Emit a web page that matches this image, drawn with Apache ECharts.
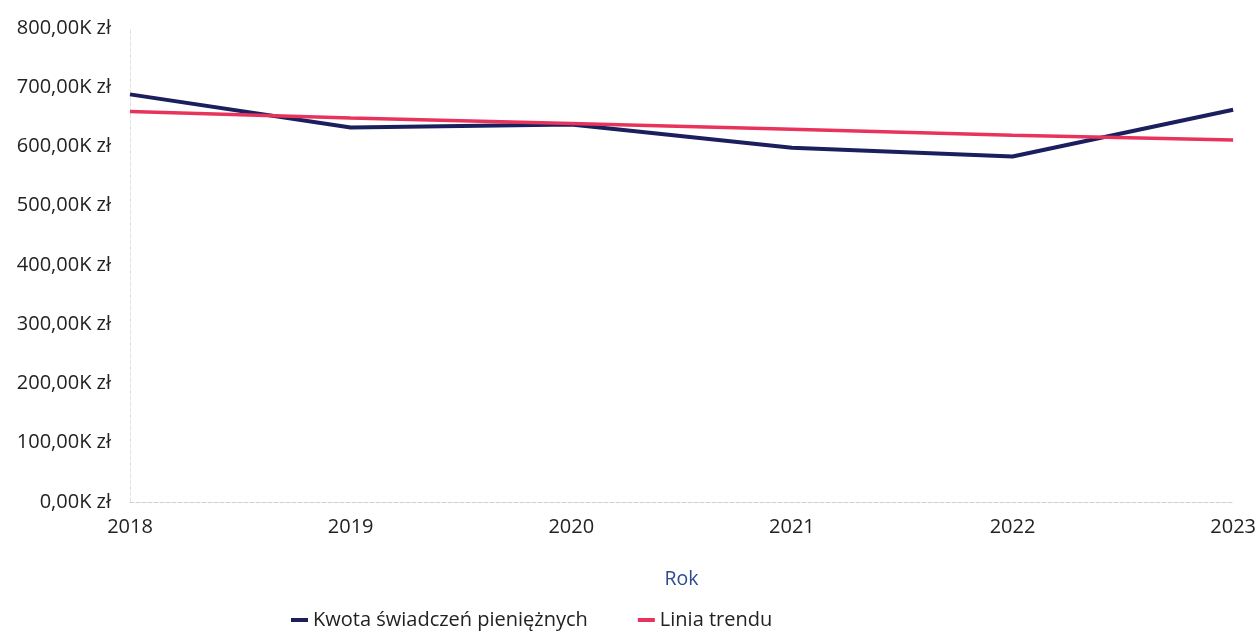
<!DOCTYPE html>
<html>
<head>
<meta charset="utf-8">
<script src="https://cdn.jsdelivr.net/npm/echarts@6/dist/echarts.min.js"></script>
<style>
html,body{margin:0;padding:0;background:#fff;}
#chart{width:1259px;height:634px;}
</style>
</head>
<body>
<div id="chart"></div>
<script>
const years = ['2018', '2019', '2020', '2021', '2022', '2023'];
const kwota = [688000, 632000, 637000, 598000, 583000, 662000];
const trend = [659000, 648000, 639000, 629000, 619000, 611000];
const seriesNames = ['Kwota świadczeń pieniężnych', 'Linia trendu'];
const yTicks = { min: 0, max: 800000, interval: 100000 };

const FONT = '"Open Sans", "Noto Sans", sans-serif';
const chart = echarts.init(document.getElementById('chart'), null, { renderer: 'canvas' });
chart.setOption({
  animation: false,
  backgroundColor: '#ffffff',
  textStyle: { fontFamily: FONT },
  grid: { left: 130, right: 24, top: 28, bottom: 132, containLabel: false },
  legend: {
    data: seriesNames,
    left: 286,
    top: 605,
    icon: 'rect',
    itemWidth: 17,
    itemHeight: 4,
    itemGap: 50,
    textStyle: { fontFamily: FONT, fontSize: 20, color: '#222' }
  },
  xAxis: {
    type: 'category',
    data: years,
    boundaryGap: false,
    name: 'Rok',
    nameLocation: 'middle',
    nameGap: 67,
    nameTextStyle: { fontFamily: FONT, fontSize: 19.5, color: '#2f4a8f' },
    axisLine: { show: true, lineStyle: { color: '#d0d0d0', type: 'dashed', width: 1 } },
    axisTick: { show: false },
    axisLabel: { fontFamily: FONT, fontSize: 20, color: '#222', margin: 15 },
    splitLine: { show: false }
  },
  yAxis: {
    type: 'value',
    min: yTicks.min,
    max: yTicks.max,
    interval: yTicks.interval,
    axisLine: { show: true, lineStyle: { color: '#e2e2e2', type: 'dashed', width: 1 } },
    axisTick: { show: false },
    splitLine: { show: false },
    axisLabel: {
      fontFamily: FONT, fontSize: 20, color: '#222', margin: 19,
      formatter: v => (v / 1000).toFixed(2).replace('.', ',') + 'K zł'
    }
  },
  series: [
    {
      name: seriesNames[0],
      type: 'line',
      data: kwota,
      showSymbol: false,
      symbol: 'none',
      lineStyle: { color: '#1b1f5e', width: 4 },
      itemStyle: { color: '#1b1f5e' },
      z: 2
    },
    {
      name: seriesNames[1],
      type: 'line',
      data: trend,
      showSymbol: false,
      symbol: 'none',
      lineStyle: { color: '#e8335c', width: 3.5 },
      itemStyle: { color: '#e8335c' },
      z: 3
    }
  ]
});
</script>
</body>
</html>
